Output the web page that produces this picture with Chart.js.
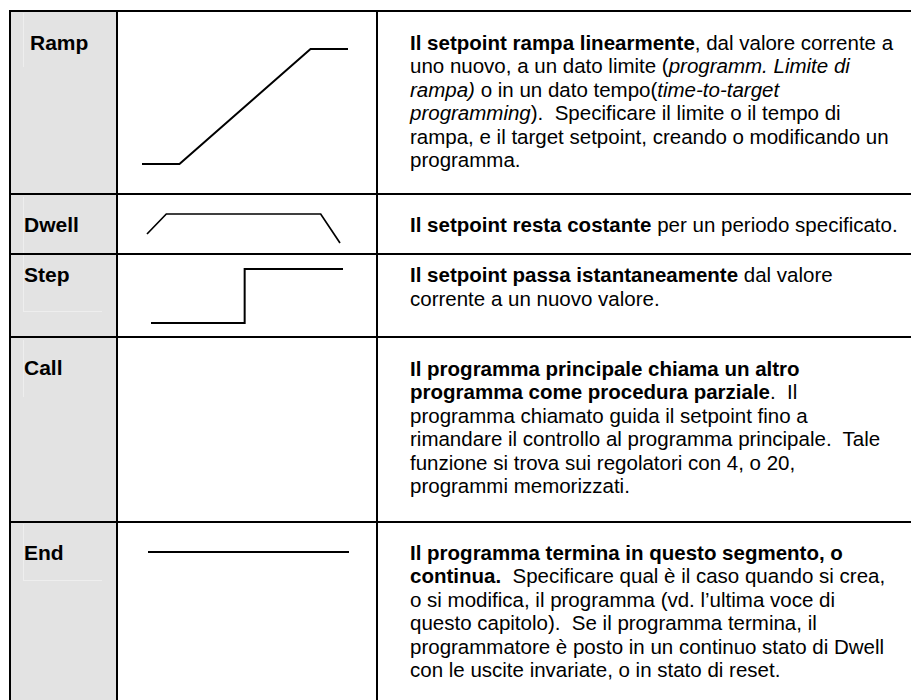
<!DOCTYPE html>
<html>
<head>
<meta charset="utf-8">
<script src="https://cdn.jsdelivr.net/npm/chart.js@4/dist/chart.umd.min.js"></script>
<style>
  html, body { margin:0; padding:0; background:#fff; }
  body { width:911px; height:700px; overflow:hidden; position:relative;
         font-family:"Liberation Sans", Arial, sans-serif; color:#000; }
  .ln { position:absolute; background:#000; }
  .gray { position:absolute; background:#e3e3e3; }
  .faint { position:absolute; background:#eeeeee; }
  .lab { position:absolute; font-weight:bold; font-size:21px; line-height:23.5px; white-space:nowrap; }
  .desc { position:absolute; font-size:20.5px; line-height:23.5px; white-space:nowrap; }
  .dia { position:absolute; }
  .dia canvas { display:block; }
</style>
</head>
<body>
<script>
// ---- data ----
const segmentNames = ["Ramp", "Dwell", "Step", "Call", "End"];
const rampTime = [0, 1, 4.5, 5.5];
const rampSetpoint = [0, 0, 1, 1];
const dwellTime = [0, 1, 9, 10];
const dwellSetpoint = [0, 1, 1, -0.45];
const stepTime = [0, 1, 1, 2.05];
const stepSetpoint = [0, 0, 1, 1];
const endTime = [0, 1];
const endSetpoint = [0, 0];
const descriptions = [
  "<b>Il setpoint rampa linearmente</b>, dal valore corrente a<br>uno nuovo, a un dato limite (<i>programm. Limite di<br>rampa)</i> o in un dato tempo(<i>time-to-target<br>programming</i>).&nbsp; Specificare il limite o il tempo di<br>rampa, e il target setpoint, creando o modificando un<br>programma.",
  "<b>Il setpoint resta costante</b> per un periodo specificato.",
  "<b>Il setpoint passa istantaneamente</b> dal valore<br>corrente a un nuovo valore.",
  "<b>Il programma principale chiama un altro<br>programma come procedura parziale</b>.&nbsp; Il<br>programma chiamato guida il setpoint fino a<br>rimandare il controllo al programma principale.&nbsp; Tale<br>funzione si trova sui regolatori con 4, o 20,<br>programmi memorizzati.",
  "<b>Il programma termina in questo segmento, o<br>continua.</b>&nbsp; Specificare qual è il caso quando si crea,<br>o si modifica, il programma (vd. l’ultima voce di<br>questo capitolo).&nbsp; Se il programma termina, il<br>programmatore è posto in un continuo stato di Dwell<br>con le uscite invariate, o in stato di reset."
];

// ---- layout ----
const labelPos = [[30, 30.6], [24, 213], [24, 263], [24, 356.3], [24, 540.6]];
const descTop = [30.8, 213.2, 263.2, 356.5, 540.8];
const descLeft = 410;
const rowLines = [193, 253, 336, 521];

function addDiv(cls, l, t, w, h) {
  const d = document.createElement('div');
  d.className = cls;
  d.style.left = l + 'px'; d.style.top = t + 'px';
  if (w != null) d.style.width = w + 'px';
  if (h != null) d.style.height = h + 'px';
  document.body.appendChild(d);
  return d;
}
addDiv('gray', 11, 12, 105, 700);
// faint text-box outlines inside the label column
[[23, 13, 1, 54], [23, 197, 1, 115], [23, 311, 79, 1], [23, 340, 1, 57], [23, 524, 1, 56], [23, 580, 79, 1]]
  .forEach(f => addDiv('faint', f[0], f[1], f[2], f[3]));
addDiv('ln', 9, 10, 902, 2);
addDiv('ln', 9, 10, 2, 700);
addDiv('ln', 116, 10, 2, 700);
addDiv('ln', 376, 10, 2, 700);
rowLines.forEach(y => addDiv('ln', 9, y, 902, 2));

segmentNames.forEach((n, i) => {
  const d = addDiv('lab', labelPos[i][0], labelPos[i][1]);
  d.textContent = n;
  const e = addDiv('desc', descLeft, descTop[i]);
  e.innerHTML = descriptions[i];
});

// diagrams: pixel box of data extent [left, top, right, bottom], with axis ranges
const diagrams = [
  { t: rampTime,  s: rampSetpoint,  box: [142, 49, 348, 164], x: [0, 5.5],  y: [0, 1],     w: 2 },
  { t: dwellTime, s: dwellSetpoint, box: [147, 214, 340, 243], x: [0, 10], y: [-0.45, 1], w: 1.7 },
  { t: stepTime,  s: stepSetpoint,  box: [151, 269, 343, 323], x: [0, 2.05], y: [0, 1],   w: 2 },
  { t: endTime,   s: endSetpoint,   box: [148, 547, 349, 557], x: [0, 1],    y: [-1, 1],  w: 2 }
];
const pad = 4;
diagrams.forEach(dg => {
  const [l, t, r, b] = dg.box;
  const W = r - l + 2 * pad, H = b - t + 2 * pad;
  const wrap = addDiv('dia', l - pad, t - pad, W, H);
  const c = document.createElement('canvas');
  c.width = W; c.height = H;
  c.style.width = W + 'px'; c.style.height = H + 'px';
  wrap.appendChild(c);
  new Chart(c, {
    type: 'line',
    data: { datasets: [{
      data: dg.t.map((v, k) => ({ x: v, y: dg.s[k] })),
      borderColor: '#000', borderWidth: dg.w, pointRadius: 0, tension: 0,
      borderJoinStyle: 'miter', borderCapStyle: 'butt', fill: false, clip: false
    }]},
    options: {
      responsive: false, animation: false, devicePixelRatio: 1,
      layout: { padding: pad },
      plugins: { legend: { display: false }, tooltip: { enabled: false } },
      scales: {
        x: { type: 'linear', display: false, min: dg.x[0], max: dg.x[1] },
        y: { type: 'linear', display: false, min: dg.y[0], max: dg.y[1] }
      }
    }
  });
});
</script>
</body>
</html>
